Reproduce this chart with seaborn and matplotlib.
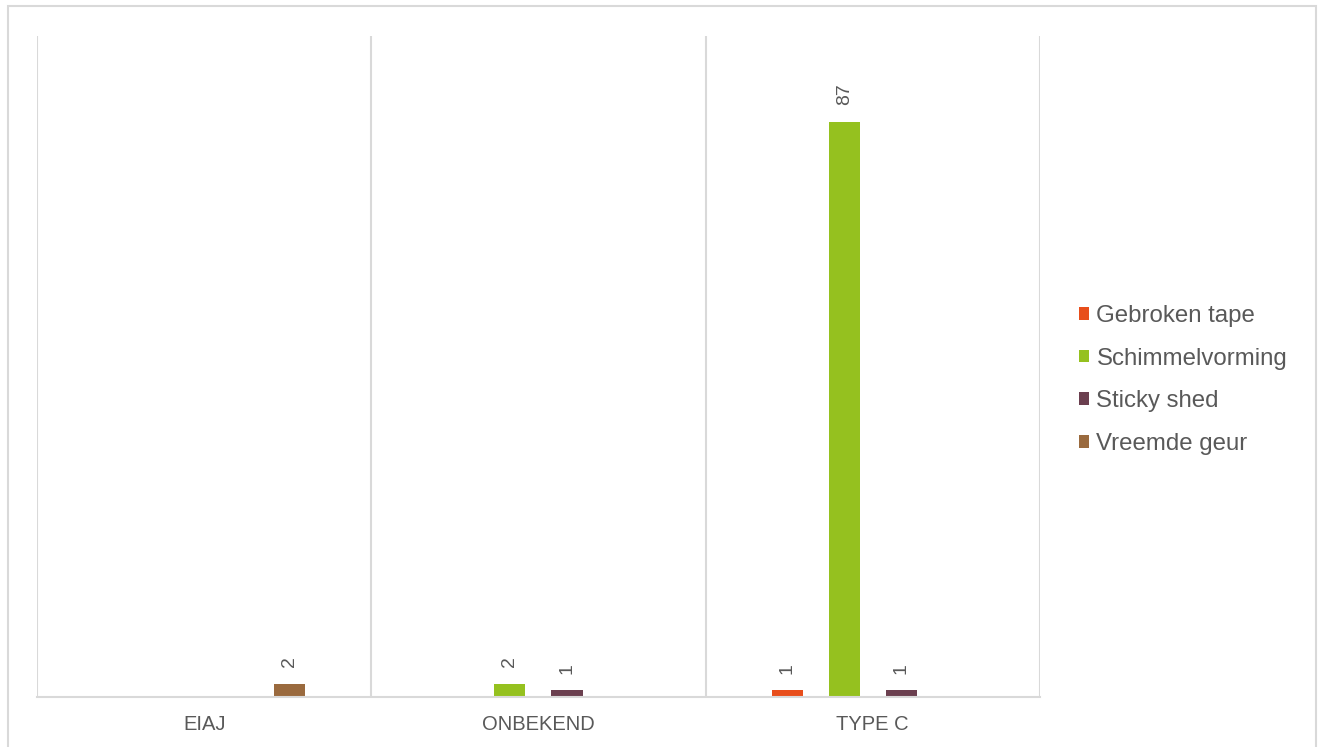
import matplotlib
matplotlib.use("Agg")
import matplotlib.pyplot as plt
import seaborn as sns
import pandas as pd
from matplotlib.patches import Rectangle

categories = ["EIAJ", "ONBEKEND", "TYPE C"]
series = ["Gebroken tape", "Schimmelvorming", "Sticky shed", "Vreemde geur"]
gebroken_tape = [0, 0, 1]
schimmelvorming = [0, 2, 87]
sticky_shed = [0, 1, 1]
vreemde_geur = [2, 0, 0]
colors = ["#E84E1B", "#95C11F", "#6B3F4F", "#9A6A3E"]

values = [gebroken_tape, schimmelvorming, sticky_shed, vreemde_geur]
rows = []
for s, vals in zip(series, values):
    for c, v in zip(categories, vals):
        rows.append({"cat": c, "series": s, "val": v})
df = pd.DataFrame(rows)

sns.set_theme(style="white")
plt.rcParams["font.family"] = ["Liberation Sans", "DejaVu Sans"]
text_color = "#595959"
grid_color = "#D9D9D9"

fig = plt.figure(figsize=(13.23, 7.47), dpi=100)
ax = fig.add_axes([0.028, 0.0669, 0.758, 0.8851])

sns.barplot(data=df, x="cat", y="val", hue="series", order=categories,
            hue_order=series, palette=colors, width=0.683, gap=0.456,
            linewidth=0, saturation=1, ax=ax, legend=True)

ax.set_ylim(0, 100)
ax.set_xlim(-0.5, len(categories) - 0.5)
for i in range(len(categories) + 1):
    ax.axvline(i - 0.5, color=grid_color, lw=1.5, zorder=0)

for sp in ["top", "right", "left"]:
    ax.spines[sp].set_visible(False)
ax.spines["bottom"].set_color(grid_color)
ax.spines["bottom"].set_linewidth(1.5)
ax.set_yticks([])
ax.set_xlabel("")
ax.set_ylabel("")
ax.tick_params(axis="x", length=0, pad=13, labelsize=14.5, labelcolor=text_color)

for cont in ax.containers:
    labels = [f"{int(b.get_height())}" if b.get_height() > 0 else "" for b in cont]
    ax.bar_label(cont, labels=labels, rotation=90, padding=12,
                 fontsize=14, color=text_color)

leg = ax.legend(loc="center left", bbox_to_anchor=(0.8155, 0.4915),
                bbox_transform=fig.transFigure, frameon=False,
                fontsize=17.3, handlelength=0.43, handleheight=0.43,
                handletextpad=0.3, labelspacing=0.86, borderpad=0,
                borderaxespad=0)
for t in leg.get_texts():
    t.set_color(text_color)

fig.patches.append(Rectangle((0.006, -0.01), 0.9887, 1.002,
                             transform=fig.transFigure, fill=False,
                             edgecolor=grid_color, lw=1.5))

fig.savefig("out.png", dpi=100, facecolor="white")
